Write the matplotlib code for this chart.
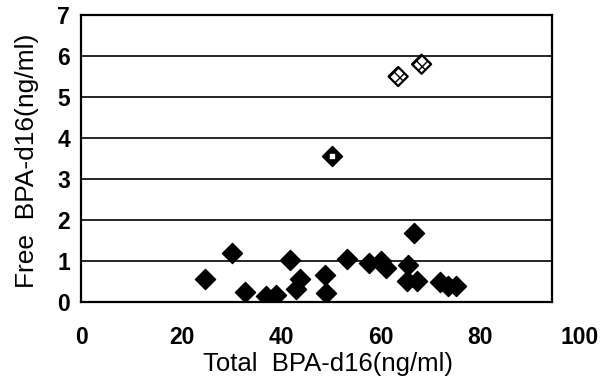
import numpy as np
import matplotlib
matplotlib.use("Agg")
import matplotlib.pyplot as plt

plt.rcParams['font.family'] = ['Liberation Sans', 'DejaVu Sans']

# solid points (Total vs Free BPA-d16, ng/ml)
total = [24.8, 30.1, 32.7, 36.9, 39.0, 41.8, 43.8, 43.0, 48.8, 49.1,
         53.2, 57.6, 60.0, 61.0, 65.5, 65.2, 67.2, 66.7, 71.9, 73.6, 75.2]
free = [0.56, 1.19, 0.24, 0.15, 0.18, 1.03, 0.56, 0.32, 0.65, 0.21,
        1.05, 0.95, 0.99, 0.82, 0.90, 0.52, 0.52, 1.68, 0.48, 0.39, 0.38]
# point with white dot
dot_total = [50.3]
dot_free = [3.55]
# hatched points
hatch_total = [63.5, 68.2]
hatch_free = [5.5, 5.8]

xticks = [0, 20, 40, 60, 80, 100]
yticks = [0, 1, 2, 3, 4, 5, 6, 7]

W, H = 612, 379
fig = plt.figure(figsize=(W / 100, H / 100), dpi=100)

# main plot frame
ax = fig.add_axes([81 / W, 1 - 302 / H, (552 - 81) / W, (302 - 15) / H])
ax.set_xlim(-0.2, 94.4)
ax.set_ylim(0, 7)
ax.set_yticks(yticks)
ax.set_xticks([])
for y in yticks[1:-1]:
    ax.axhline(y, color='black', lw=1.2, zorder=1)
for s in ax.spines.values():
    s.set_linewidth(1.6)
ax.tick_params(axis='y', length=0, pad=8, labelsize=16.5)
for t in ax.get_yticklabels():
    t.set_fontweight('bold')

ax.scatter(total, free, marker='D', s=105, color='black', zorder=3)
ax.scatter(dot_total, dot_free, marker='D', s=105, color='black', zorder=3)
ax.scatter(dot_total, dot_free, marker='s', s=6, color='white', zorder=4)
ax.scatter(hatch_total, hatch_free, marker='D', s=95, facecolor='white',
           edgecolor='black', linewidths=1.6, hatch='xxx', zorder=3)

fig.text(27 / W, 1 - 161 / H, 'Free  BPA-d16(ng/ml)', fontsize=19,
         rotation=90, ha='center', va='center')

# x tick labels as printed (spread slightly wider than the frame)
lab = fig.add_axes([82 / W, 1 - 302 / H, (580 - 82) / W, 0.001])
lab.set_xlim(0, 100)
lab.set_xticks(xticks)
lab.set_yticks([])
for s in lab.spines.values():
    s.set_visible(False)
lab.patch.set_visible(False)
lab.tick_params(axis='x', length=0, pad=17, labelsize=16.5)
for t in lab.get_xticklabels():
    t.set_fontweight('bold')

fig.text(328 / W, 1 - 364 / H, 'Total  BPA-d16(ng/ml)', fontsize=18.5,
         ha='center', va='center')

fig.savefig('out.png', dpi=100)
